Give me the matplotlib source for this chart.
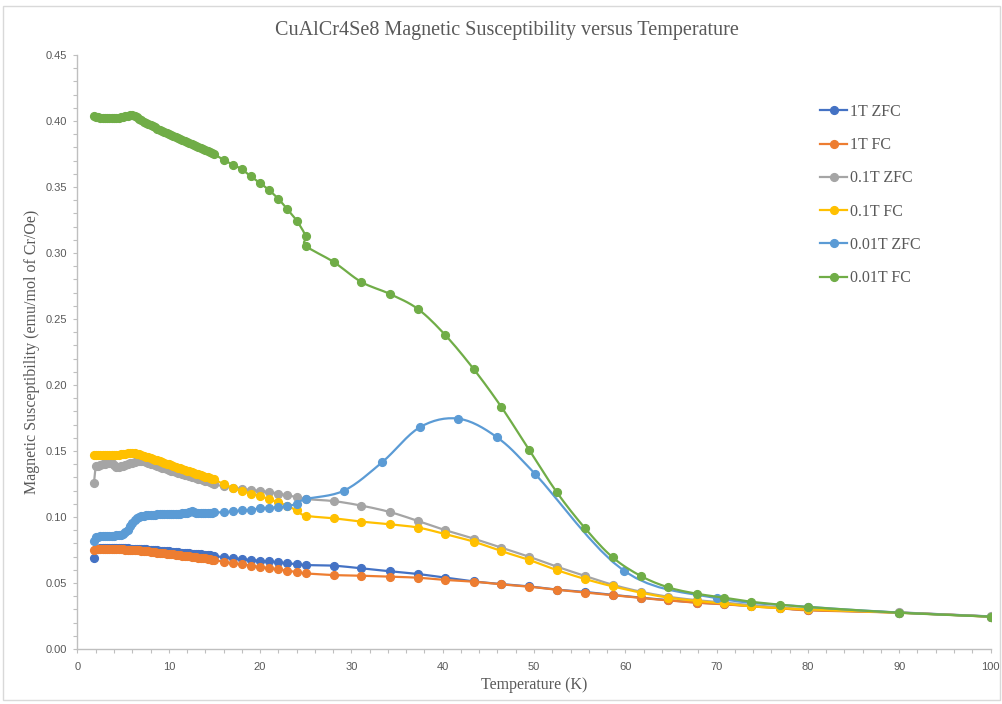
import numpy as np
import matplotlib
matplotlib.use("Agg")
import matplotlib.pyplot as plt
from matplotlib.lines import Line2D
from matplotlib.patches import Rectangle

# ---------------- data ----------------
# dense low-temperature sweep (1.8 K, then 2.0 ... 15.0 K every 0.25 K)
T_low = [1.8,
         2.0, 2.25, 2.5, 2.75,
         3.0, 3.25, 3.5, 3.75,
         4.0, 4.25, 4.5, 4.75,
         5.0, 5.25, 5.5, 5.75,
         6.0, 6.25, 6.5, 6.75,
         7.0, 7.25, 7.5, 7.75,
         8.0, 8.25, 8.5, 8.75,
         9.0, 9.25, 9.5, 9.75,
         10.0, 10.25, 10.5, 10.75,
         11.0, 11.25, 11.5, 11.75,
         12.0, 12.25, 12.5, 12.75,
         13.0, 13.25, 13.5, 13.75,
         14.0, 14.25, 14.5, 14.75,
         15.0]
T_high = [16, 17, 18, 19, 20, 21, 22, 23, 24, 25, 28.1, 31.1, 34.2, 37.3, 40.3, 43.4,
          46.4, 49.5, 52.5, 55.6, 58.6, 61.7, 64.7, 67.8, 70.8, 73.8, 76.9, 80.0, 90.0, 100.0]
T_high_zfc001 = [16, 17, 18, 19, 20, 21, 22, 23, 24, 25, 29.2, 33.4, 37.5, 41.7, 45.9,
                 50.1, 59.9, 70.0, 80.0, 90.0, 100.0]
T_high_fc001 = [16, 17, 18, 19, 20, 21, 22, 23, 24, 25, 25, 28.1, 31.1, 34.2, 37.3, 40.3,
                43.4, 46.4, 49.5, 52.5, 55.6, 58.6, 61.7, 64.7, 67.8, 70.8, 73.8, 76.9,
                80.0, 90.0, 100.0]

zfc_1T_low = [0.0688,
              0.0760, 0.0761, 0.0762, 0.0762,
              0.0762, 0.0762, 0.0763, 0.0763,
              0.0763, 0.0763, 0.0763, 0.0762,
              0.0762, 0.0762, 0.0762, 0.0761,
              0.0761, 0.0760, 0.0760, 0.0759,
              0.0758, 0.0756, 0.0755, 0.0753,
              0.0752, 0.0750, 0.0749, 0.0747,
              0.0746, 0.0744, 0.0742, 0.0740,
              0.0739, 0.0737, 0.0736, 0.0734,
              0.0732, 0.0730, 0.0729, 0.0727,
              0.0726, 0.0724, 0.0722, 0.0720,
              0.0719, 0.0717, 0.0716, 0.0714,
              0.0712, 0.0710, 0.0709, 0.0707,
              0.0705]
zfc_1T_high = [0.0695, 0.0689, 0.0682, 0.0674, 0.0669, 0.0664, 0.0657, 0.0650, 0.0642,
               0.0636, 0.0631, 0.0611, 0.0589, 0.0568, 0.0540, 0.0512, 0.0492, 0.0474,
               0.0450, 0.0432, 0.0410, 0.0389, 0.0370, 0.0352, 0.0340, 0.0326, 0.0311,
               0.0296, 0.0276, 0.0246]

fc_1T_low = [0.0752,
             0.0755, 0.0755, 0.0756, 0.0756,
             0.0756, 0.0756, 0.0756, 0.0756,
             0.0756, 0.0755, 0.0755, 0.0754,
             0.0754, 0.0753, 0.0753, 0.0752,
             0.0751, 0.0750, 0.0748, 0.0747,
             0.0745, 0.0743, 0.0741, 0.0739,
             0.0737, 0.0735, 0.0733, 0.0731,
             0.0729, 0.0727, 0.0725, 0.0723,
             0.0721, 0.0719, 0.0717, 0.0714,
             0.0712, 0.0710, 0.0708, 0.0706,
             0.0704, 0.0701, 0.0699, 0.0697,
             0.0695, 0.0692, 0.0690, 0.0688,
             0.0686, 0.0683, 0.0681, 0.0678,
             0.0676]
fc_1T_high = [0.0659, 0.0650, 0.0642, 0.0631, 0.0621, 0.0611, 0.0604, 0.0593, 0.0583,
              0.0573, 0.0560, 0.0555, 0.0548, 0.0540, 0.0523, 0.0510, 0.0490, 0.0472,
              0.0449, 0.0428, 0.0407, 0.0386, 0.0368, 0.0351, 0.0339, 0.0323, 0.0310,
              0.0293, 0.0275, 0.0245]

zfc_01T_low = [0.1255,
               0.1385, 0.1390, 0.1395, 0.1400,
               0.1405, 0.1409, 0.1412, 0.1408,
               0.1395, 0.1382, 0.1378, 0.1383,
               0.1388, 0.1394, 0.1400, 0.1406,
               0.1412, 0.1417, 0.1422, 0.1424,
               0.1425, 0.1422, 0.1418, 0.1412,
               0.1405, 0.1399, 0.1393, 0.1386,
               0.1380, 0.1374, 0.1368, 0.1362,
               0.1357, 0.1351, 0.1345, 0.1340,
               0.1335, 0.1330, 0.1325, 0.1320,
               0.1315, 0.1310, 0.1305, 0.1300,
               0.1295, 0.1290, 0.1285, 0.1280,
               0.1275, 0.1270, 0.1264, 0.1256,
               0.1248]
zfc_01T_high = [0.1232, 0.1222, 0.1213, 0.1205, 0.1197, 0.1190, 0.1177, 0.1164, 0.1152,
                0.1136, 0.1120, 0.1086, 0.1038, 0.0970, 0.0900, 0.0836, 0.0768, 0.0698,
                0.0624, 0.0553, 0.0487, 0.0434, 0.0396, 0.0370, 0.0352, 0.0332, 0.0316,
                0.0302, 0.0277, 0.0247]

fc_01T_low = [0.1473,
              0.1472, 0.1472, 0.1471, 0.1471,
              0.1470, 0.1470, 0.1470, 0.1470,
              0.1471, 0.1472, 0.1473, 0.1475,
              0.1477, 0.1480, 0.1482, 0.1485,
              0.1487, 0.1484, 0.1480, 0.1475,
              0.1470, 0.1464, 0.1458, 0.1453,
              0.1447, 0.1441, 0.1435, 0.1429,
              0.1423, 0.1417, 0.1411, 0.1405,
              0.1399, 0.1393, 0.1387, 0.1381,
              0.1375, 0.1369, 0.1363, 0.1357,
              0.1352, 0.1346, 0.1340, 0.1334,
              0.1328, 0.1322, 0.1316, 0.1310,
              0.1305, 0.1300, 0.1295, 0.1290,
              0.1285]
fc_01T_high = [0.1248, 0.1222, 0.1197, 0.1177, 0.1159, 0.1134, 0.1111, 0.1083, 0.1050,
               0.1010, 0.0990, 0.0965, 0.0945, 0.0920, 0.0870, 0.0813, 0.0742, 0.0674,
               0.0598, 0.0530, 0.0475, 0.0427, 0.0389, 0.0364, 0.0346, 0.0323, 0.0310,
               0.0300, 0.0275, 0.0245]

zfc_001T_low = [0.0820,
                0.0845, 0.0852, 0.0856, 0.0856,
                0.0857, 0.0857, 0.0858, 0.0858,
                0.0859, 0.0860, 0.0862, 0.0867,
                0.0875, 0.0888, 0.0905, 0.0930,
                0.0955, 0.0978, 0.0995, 0.1003,
                0.1008, 0.1011, 0.1013, 0.1015,
                0.1016, 0.1017, 0.1018, 0.1019,
                0.1020, 0.1020, 0.1021, 0.1022,
                0.1022, 0.1023, 0.1024, 0.1025,
                0.1025, 0.1026, 0.1027, 0.1028,
                0.1030, 0.1037, 0.1045, 0.1035,
                0.1028, 0.1028, 0.1028, 0.1029,
                0.1031, 0.1032, 0.1033, 0.1034,
                0.1035]
zfc_001T_high = [0.1035, 0.1043, 0.1050, 0.1055, 0.1066, 0.1070, 0.1073, 0.1083, 0.1100,
                 0.1136, 0.1200, 0.1417, 0.1680, 0.1745, 0.1606, 0.1328, 0.0590, 0.0386,
                 0.0320, 0.0276, 0.0246]

fc_001T_low = [0.4035,
               0.4030, 0.4027, 0.4025, 0.4023,
               0.4022, 0.4022, 0.4022, 0.4022,
               0.4023, 0.4024, 0.4026, 0.4029,
               0.4032, 0.4036, 0.4040, 0.4044,
               0.4047, 0.4040, 0.4030, 0.4018,
               0.4005, 0.3995, 0.3985, 0.3977,
               0.3970, 0.3961, 0.3952, 0.3943,
               0.3935, 0.3927, 0.3918, 0.3910,
               0.3902, 0.3893, 0.3885, 0.3878,
               0.3870, 0.3862, 0.3855, 0.3846,
               0.3838, 0.3830, 0.3822, 0.3815,
               0.3808, 0.3800, 0.3793, 0.3785,
               0.3778, 0.3770, 0.3762, 0.3755,
               0.3748]
fc_001T_high = [0.3705, 0.3670, 0.3634, 0.3580, 0.3530, 0.3475, 0.3410, 0.3330, 0.3245,
                0.3127, 0.3055, 0.2930, 0.2780, 0.2690, 0.2575, 0.2377, 0.2120, 0.1836,
                0.1505, 0.1187, 0.0914, 0.0695, 0.0553, 0.0467, 0.0419, 0.0389, 0.0358,
                0.0336, 0.0318, 0.0275, 0.0245]

labels = ["1T ZFC", "1T FC", "0.1T ZFC", "0.1T FC", "0.01T ZFC", "0.01T FC"]
colors = ["#4472C4", "#ED7D31", "#A5A5A5", "#FFC000", "#5B9BD5", "#70AD47"]

series = [
    (T_low + T_high, zfc_1T_low + zfc_1T_high),
    (T_low + T_high, fc_1T_low + fc_1T_high),
    (T_low + T_high, zfc_01T_low + zfc_01T_high),
    (T_low + T_high, fc_01T_low + fc_01T_high),
    (T_low + T_high_zfc001, zfc_001T_low + zfc_001T_high),
    (T_low + T_high_fc001, fc_001T_low + fc_001T_high),
]

XMAX, YMAX = 100.0, 0.45


def smooth(x, y, n=8):
    """Excel-like smoothed line (uniform Catmull-Rom) drawn through the points."""
    x = np.asarray(x, float) / XMAX
    y = np.asarray(y, float) / YMAX * 0.65
    P = np.column_stack([x, y])
    P = np.vstack([P[0], P, P[-1]])
    out = []
    t = np.linspace(0, 1, n, endpoint=False)[:, None]
    for i in range(1, len(P) - 2):
        p0, p1, p2, p3 = P[i - 1], P[i], P[i + 1], P[i + 2]
        c1 = p1 + (p2 - p0) / 6.0
        c2 = p2 - (p3 - p1) / 6.0
        seg = ((1 - t) ** 3) * p1 + 3 * ((1 - t) ** 2) * t * c1 + 3 * (1 - t) * t ** 2 * c2 + t ** 3 * p2
        out.append(seg)
    out.append(P[-2][None, :])
    out = np.vstack(out)
    return out[:, 0] * XMAX, out[:, 1] / 0.65 * YMAX


# ---------------- figure ----------------
W, H = 1003, 704
fig = plt.figure(figsize=(W / 100, H / 100), dpi=100)
ax = fig.add_axes([77.5 / W, 1 - 649 / H, (990.5 - 77.5) / W, (649 - 55) / H])

text_col = "#595959"
axis_col = "#BFBFBF"

for i, ((xs, ys), c) in enumerate(zip(series, colors)):
    sx, sy = smooth(xs, ys)
    ax.plot(sx, sy, color=c, lw=1.6, zorder=2 + i * 2, solid_capstyle="round")
    ax.plot(xs, ys, ls="none", marker="o", ms=5.6, color=c, mec=c, zorder=3 + i * 2)

ax.set_xlim(0, 100)
ax.set_ylim(0, 0.45)
ax.set_xticks(np.arange(0, 101, 10))
ax.set_xticks(np.arange(0, 101, 2), minor=True)
ax.set_yticks(np.arange(0, 0.451, 0.05))
ax.set_yticks(np.arange(0, 0.451, 0.01), minor=True)
ax.set_xticklabels([f"{v:d}" for v in range(0, 101, 10)])
ax.set_yticklabels([f"{v:.2f}" for v in np.arange(0, 0.451, 0.05)])

for s in ["top", "right"]:
    ax.spines[s].set_visible(False)
for s in ["left", "bottom"]:
    ax.spines[s].set_color(axis_col)
    ax.spines[s].set_linewidth(1.0)

ax.tick_params(which="both", direction="out", color=axis_col, width=0.8,
               labelcolor=text_col, labelsize=8)
ax.tick_params(which="major", length=3)
ax.tick_params(which="minor", length=3)
ax.tick_params(axis="y", pad=4.5)
ax.tick_params(axis="x", pad=6)
for lab in ax.get_xticklabels() + ax.get_yticklabels():
    lab.set_family("Liberation Sans")

serif = "Liberation Serif"
ax.set_xlabel("Temperature (K)", family=serif, fontsize=11.5, color=text_col, labelpad=4)
ax.set_ylabel("Magnetic Susceptibility (emu/mol of Cr/Oe)", family=serif, fontsize=11.5,
              color=text_col, labelpad=4)
fig.text(507 / W, 1 - 30 / H, "CuAlCr4Se8 Magnetic Susceptibility versus Temperature",
         family=serif, fontsize=14.5, color=text_col, ha="center", va="center")

handles = [Line2D([], [], color=c, lw=1.6, marker="o", ms=5.6, mec=c) for c in colors]
leg = fig.legend(handles, labels, loc="upper left",
                 bbox_to_anchor=(820 / W, 1 - 104 / H), bbox_transform=fig.transFigure,
                 frameon=False, prop={"family": serif, "size": 11.5},
                 handlelength=1.7, handletextpad=0.15, labelspacing=1.08,
                 borderpad=0, borderaxespad=0)
for t in leg.get_texts():
    t.set_color(text_col)

fig.patches.append(Rectangle((3 / W, 4 / H), 997 / W, 694 / H, transform=fig.transFigure,
                             fill=False, edgecolor="#D9D9D9", lw=1.0))

fig.savefig("out.png", dpi=100)
